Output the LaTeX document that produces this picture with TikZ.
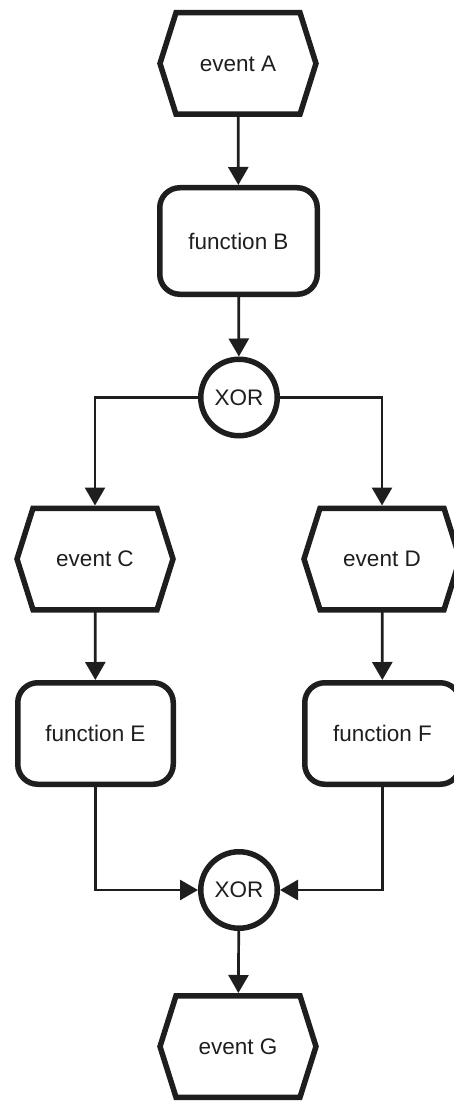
\documentclass[tikz,border=0pt]{standalone}
\usepackage{fontspec}
\setmainfont{Liberation Sans}
\usetikzlibrary{arrows.meta}
\definecolor{ink}{HTML}{1E1E1E}
\begin{document}
\begin{tikzpicture}[x=1pt,y=1pt,
  font=\fontsize{22.5}{26}\selectfont, text=ink,
  evt/.style={rectangle, minimum width=124pt, minimum height=101.5pt, inner sep=0pt, outer sep=0pt},
  hexline/.style={draw=ink, line width=5.5pt, line join=miter},
  fun/.style={rectangle, draw=ink, line width=5.5pt, rounded corners=20pt, inner sep=0pt, outer sep=0pt},
  gate/.style={circle, draw=ink, line width=5.5pt, minimum size=76.5pt, inner sep=0pt, outer sep=0pt},
  conn/.style={draw=ink, line width=2.7pt, -{Triangle[length=18pt,width=20pt]}, shorten >=2.75pt}
]
\useasboundingbox (0,0) rectangle (454,-1102);
\node[evt] (A) at (238,-63.5) {event A};
\node[fun, minimum width=157.5pt, minimum height=106.5pt] (B) at (238.5,-241) {function B};
\node[gate] (X1) at (239,-397.5) {XOR};
\node[evt] (C) at (95,-559) {event C};
\node[evt] (D) at (382,-559) {event D};
\node[fun, minimum width=155.5pt, minimum height=101.5pt] (E) at (95.5,-733.5) {function E};
\node[fun, minimum width=155.5pt, minimum height=101.5pt] (F) at (382.5,-733.5) {function F};
\node[gate] (X2) at (239,-890) {XOR};
\node[evt] (G) at (238,-1046.5) {event G};
\foreach \n in {A,C,D,G}{
  \draw[hexline] (\n.north west) -- (\n.north east) -- ([xshift=16pt]\n.east)
    -- (\n.south east) -- (\n.south west) -- ([xshift=-16pt]\n.west) -- cycle;
}
\draw[conn] (A) -- (B);
\draw[conn] (B) -- (X1);
\draw[conn] (X1.west) -| (C.north);
\draw[conn] (X1.east) -| (D.north);
\draw[conn] (C) -- (E);
\draw[conn] (D) -- (F);
\draw[conn] (E.south) |- (X2.west);
\draw[conn] (F.south) |- (X2.east);
\draw[conn] (X2) -- (G);
\end{tikzpicture}
\end{document}
